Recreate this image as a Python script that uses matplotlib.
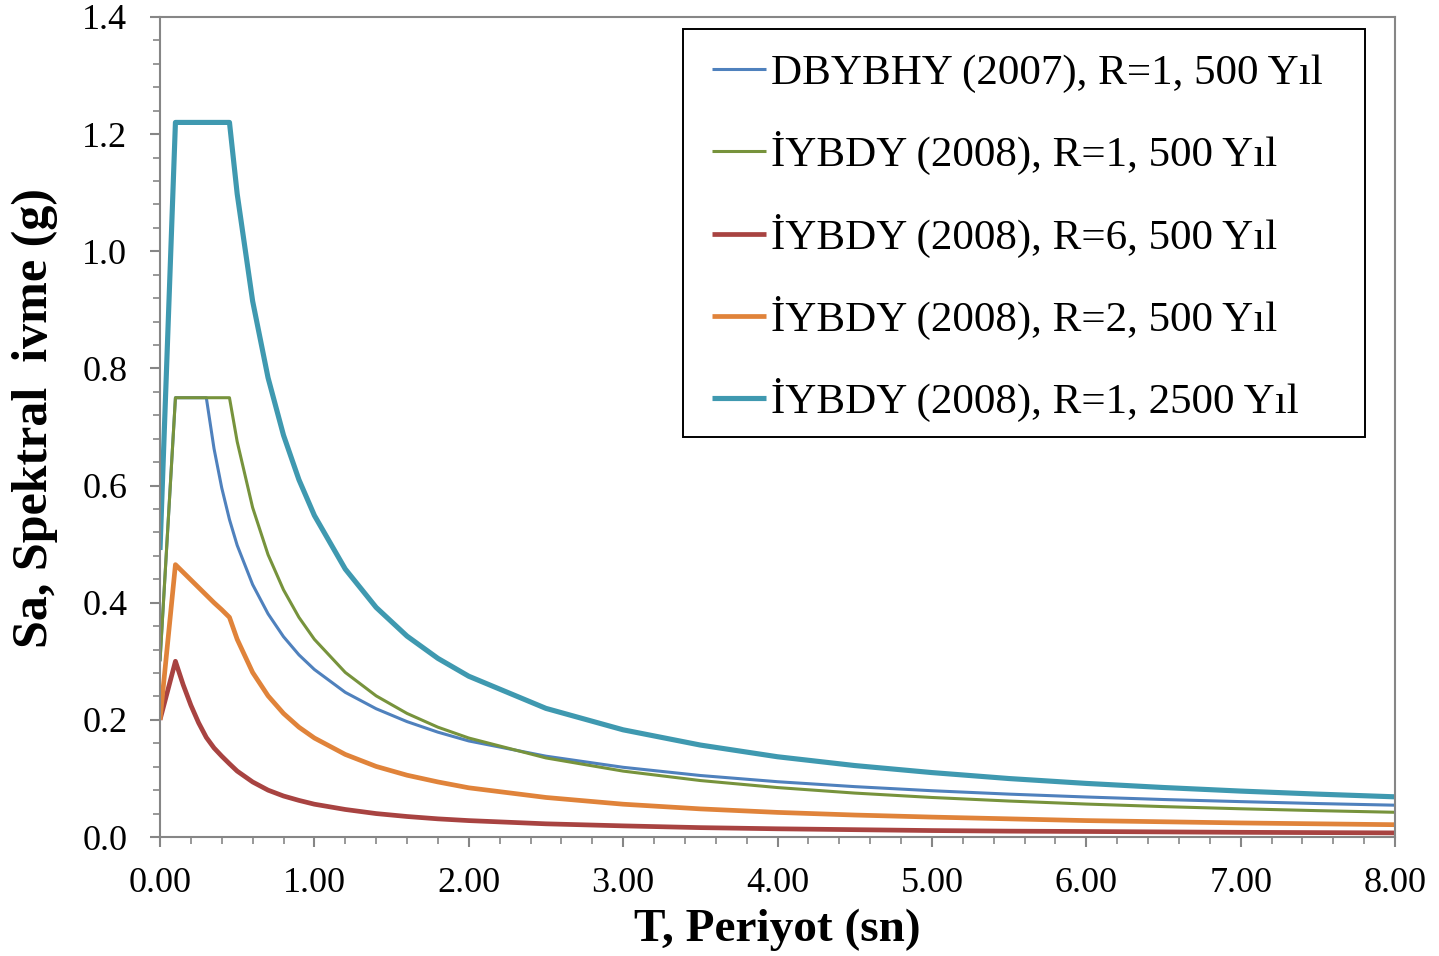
import matplotlib
matplotlib.use("Agg")
import matplotlib.pyplot as plt
from matplotlib.ticker import MultipleLocator, FormatStrFormatter
from matplotlib.patches import Rectangle

plt.rcParams['font.family'] = ['Liberation Serif', 'DejaVu Serif']

# Period (s)
T_dbybhy = [0.0, 0.1, 0.3, 0.35, 0.4, 0.45, 0.5, 0.6, 0.7, 0.8, 0.9, 1.0, 1.2, 1.4, 1.6, 1.8, 2.0,
            2.5, 3.0, 3.5, 4.0, 4.5, 5.0, 5.5, 6.0, 6.5, 7.0, 7.5, 8.0]
Sa_dbybhy_r1 = [0.30, 0.75, 0.75, 0.663, 0.596, 0.542, 0.498, 0.431, 0.381, 0.342, 0.311, 0.286, 0.247,
                0.219, 0.197, 0.179, 0.164, 0.138, 0.119, 0.105, 0.0944, 0.086, 0.079, 0.0732, 0.0683,
                0.064, 0.0604, 0.0571, 0.0543]

T_iybdy = [0.0, 0.1, 0.15, 0.2, 0.25, 0.3, 0.35, 0.4, 0.45, 0.5, 0.6, 0.7, 0.8, 0.9, 1.0, 1.2, 1.4, 1.6,
           1.8, 2.0, 2.5, 3.0, 3.5, 4.0, 4.5, 5.0, 5.5, 6.0, 6.5, 7.0, 7.5, 8.0]
Sa_iybdy_r1_500 = [0.30, 0.75, 0.75, 0.75, 0.75, 0.75, 0.75, 0.75, 0.75, 0.675, 0.5625, 0.482, 0.422,
                   0.375, 0.3375, 0.281, 0.241, 0.211, 0.1875, 0.169, 0.135, 0.1125, 0.0964, 0.0844,
                   0.075, 0.0675, 0.0614, 0.05625, 0.0519, 0.0482, 0.045, 0.0422]
Sa_iybdy_r6_500 = [0.20, 0.30, 0.26, 0.225, 0.195, 0.17, 0.152, 0.138, 0.125, 0.1125, 0.094, 0.080,
                   0.070, 0.0625, 0.056, 0.047, 0.040, 0.035, 0.031, 0.028, 0.0225, 0.019, 0.016, 0.014,
                   0.0125, 0.011, 0.010, 0.0094, 0.0087, 0.008, 0.0075, 0.007]
Sa_iybdy_r2_500 = [0.20, 0.465, 0.452, 0.439, 0.426, 0.413, 0.400, 0.388, 0.375, 0.3375, 0.281, 0.241,
                   0.211, 0.1875, 0.169, 0.141, 0.1205, 0.1055, 0.094, 0.084, 0.0675, 0.056, 0.048,
                   0.042, 0.0375, 0.034, 0.031, 0.028, 0.026, 0.024, 0.0225, 0.021]
Sa_iybdy_r1_2500 = [0.49, 1.22, 1.22, 1.22, 1.22, 1.22, 1.22, 1.22, 1.22, 1.098, 0.915, 0.784, 0.686,
                    0.61, 0.549, 0.4575, 0.392, 0.343, 0.305, 0.2745, 0.2196, 0.183, 0.157, 0.137,
                    0.122, 0.11, 0.0998, 0.0915, 0.0845, 0.0784, 0.0732, 0.0686]

labels = ["DBYBHY (2007), R=1, 500 Yıl",
          "İYBDY (2008), R=1, 500 Yıl",
          "İYBDY (2008), R=6, 500 Yıl",
          "İYBDY (2008), R=2, 500 Yıl",
          "İYBDY (2008), R=1, 2500 Yıl"]
colors = ["#4F81BD", "#77933C", "#A84341", "#E0833A", "#3F99B0"]
widths = [2.2, 2.2, 3.4, 3.4, 3.7]

W, H = 1439, 956
fig = plt.figure(figsize=(W / 100, H / 100), dpi=100)
ax = fig.add_axes([160 / W, 1 - 837 / H, (1395 - 160) / W, (837 - 17) / H])

series = [(T_dbybhy, Sa_dbybhy_r1), (T_iybdy, Sa_iybdy_r1_500), (T_iybdy, Sa_iybdy_r6_500),
          (T_iybdy, Sa_iybdy_r2_500), (T_iybdy, Sa_iybdy_r1_2500)]
lines = []
for i, (x, y) in enumerate(series):
    ln, = ax.plot(x, y, color=colors[i], lw=widths[i], label=labels[i], solid_joinstyle='round',
                  solid_capstyle='butt', zorder=2 + i * 0.1)
    lines.append(ln)

ax.set_xlim(0, 8)
ax.set_ylim(0, 1.4)
ax.xaxis.set_major_locator(MultipleLocator(1.0))
ax.xaxis.set_minor_locator(MultipleLocator(0.2))
ax.yaxis.set_major_locator(MultipleLocator(0.2))
ax.yaxis.set_minor_locator(MultipleLocator(0.04))
ax.xaxis.set_major_formatter(FormatStrFormatter('%.2f'))
ax.yaxis.set_major_formatter(FormatStrFormatter('%.1f'))

spine_c = '#868686'
for s in ax.spines.values():
    s.set_color(spine_c)
    s.set_linewidth(1.5)
ax.tick_params(which='major', direction='out', length=7.5, width=1.5, color=spine_c,
               labelsize=26)
ax.tick_params(axis='x', which='major', pad=14)
ax.tick_params(axis='y', which='major', pad=16)
ax.tick_params(which='minor', direction='out', length=5, width=1.2, color=spine_c)

ax.set_xlabel('T, Periyot (sn)', fontsize=34, fontweight='bold', labelpad=6)
ax.set_ylabel('Sa, Spektral  ivme (g)', fontsize=36, fontweight='bold')
ax.yaxis.set_label_coords((58 - 160) / 1235, (837 - 418) / 820)

leg = fig.legend(lines, labels, loc='upper left', bbox_to_anchor=(699 / W, 1 - 41 / H),
                 bbox_transform=fig.transFigure, frameon=False, fontsize=31,
                 handlelength=1.25, handletextpad=0.12, labelspacing=0.89, borderpad=0.3,
                 borderaxespad=0)
fig.patches.append(Rectangle((683 / W, 1 - 437 / H), (1365 - 683) / W, (437 - 29) / H,
                             transform=fig.transFigure, fill=False, edgecolor='black',
                             linewidth=1.4, zorder=5))

fig.savefig('out.png', dpi=100)
